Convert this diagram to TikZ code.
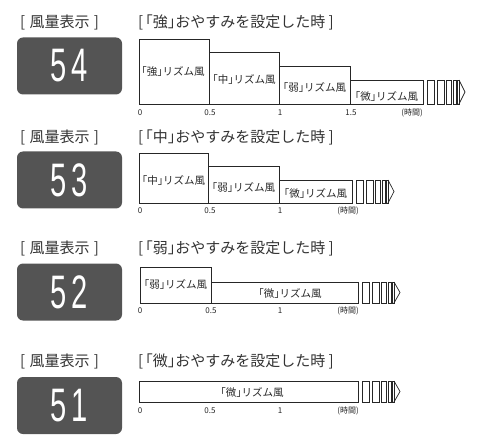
\documentclass[tikz,border=0pt]{standalone}
\usepackage{fontspec}
\setmainfont{Noto Sans CJK JP}[RawFeature=+halt]
\newfontfamily\digitfont{Liberation Sans}
\usetikzlibrary{positioning,calc}

% tail of shrinking boxes: end x, top y, base y
\newcommand{\windtail}[3]{%
  \foreach \a/\b in {4/11,14/21,23/28,30/33,34/36}
    \draw[bar] ({#1+\a},#2) rectangle ({#1+\b},#3);
  \draw[bar] ({#1+36},#2) -- ({#1+42},{(#2+#3)/2}) -- ({#1+36},#3);
}

\begin{document}
\begin{tikzpicture}[x=1pt,y=-1pt,
  title/.style={anchor=west, inner sep=0pt, text=black!80, font=\fontsize{15}{15}\selectfont},
  panel/.style={fill=black!67, rounded corners=6pt, minimum width=105pt, minimum height=57pt, inner sep=0pt},
  digits/.style={text=white, inner sep=0pt, xscale=0.62, font=\digitfont\fontsize{47}{47}\selectfont},
  bar/.style={draw=black!85, line width=0.7pt},
  barlabel/.style={inner sep=0pt, text=black!85, font=\fontsize{10.5}{10.5}\selectfont},
  tick/.style={inner sep=0pt, text=black!85, font=\fontsize{8}{8}\selectfont}]
\useasboundingbox (0,0) rectangle (484,446);

% [強]
\node[title] (t1a) at (20,22) {[\hspace{1pt} 風量表示\hspace{1pt} ]};
\node[title] (t1b) at (138,22) {[\kern2pt「強」おやすみを設定した時 ]};
\node[panel] (p1) at (69.5,66) {};
\node[digits] (d1) at (p1) {5\kern8pt4};
\draw[bar] (139,104) rectangle (209,39);
\draw[bar] (209,104) rectangle (279,52);
\draw[bar] (279,104) rectangle (350,66);
\draw[bar] (350,104) rectangle (423,80);
\windtail{423}{80}{104}
\node[barlabel] (l1a) at (173,72) {「強」リズム風};
\node[barlabel] (l1b) at (244,79) {「中」リズム風};
\node[barlabel] (l1c) at (314.5,87) {「弱」リズム風};
\node[barlabel] (l1d) at (386.5,96) {「微」リズム風};
\node[tick] (x1a) at (140,113) {0};
\node[tick] (x1b) at (210,113) {0.5};
\node[tick] (x1c) at (280,113) {1};
\node[tick] (x1d) at (351,113) {1.5};
\node[tick] (x1e) at (412,113) {(時間)};

% [中]
\node[title] (t2a) at (20,137) {[\hspace{1pt} 風量表示\hspace{1pt} ]};
\node[title] (t2b) at (138,137) {[\kern2pt「中」おやすみを設定した時 ]};
\node[panel] (p2) at (69.5,180) {};
\node[digits] (d2) at (p2) {5\kern8pt3};
\draw[bar] (139,203) rectangle (208,153);
\draw[bar] (208,203) rectangle (279,166);
\draw[bar] (279,203) rectangle (352,180);
\windtail{352}{180}{203}
\node[barlabel] (l2a) at (173.5,180) {「中」リズム風};
\node[barlabel] (l2b) at (243.5,187) {「弱」リズム風};
\node[barlabel] (l2c) at (315.5,193) {「微」リズム風};
\node[tick] (x2a) at (140,211) {0};
\node[tick] (x2b) at (210,211) {0.5};
\node[tick] (x2c) at (280,211) {1};
\node[tick] (x2e) at (348,211) {(時間)};

% [弱]
\node[title] (t3a) at (20,248) {[\hspace{1pt} 風量表示\hspace{1pt} ]};
\node[title] (t3b) at (138,248) {[\kern2pt「弱」おやすみを設定した時 ]};
\node[panel] (p3) at (69.5,292) {};
\node[digits] (d3) at (p3) {5\kern8pt2};
\draw[bar] (140,303) rectangle (211,267);
\draw[bar] (211,303) rectangle (358,282);
\windtail{358}{282}{303}
\node[barlabel] (l3a) at (175.5,284) {「弱」リズム風};
\node[barlabel] (l3b) at (290,293) {「微」リズム風};
\node[tick] (x3a) at (140,311) {0};
\node[tick] (x3b) at (211,311) {0.5};
\node[tick] (x3c) at (280,311) {1};
\node[tick] (x3e) at (348,311) {(時間)};

% [微]
\node[title] (t4a) at (20,361) {[\hspace{1pt} 風量表示\hspace{1pt} ]};
\node[title] (t4b) at (138,361) {[\kern2pt「微」おやすみを設定した時 ]};
\node[panel] (p4) at (69.5,405.5) {};
\node[digits] (d4) at (p4) {5\kern8pt1};
\draw[bar] (139,402) rectangle (358,381);
\windtail{358}{381}{402}
\node[barlabel] (l4a) at (252,392) {「微」リズム風};
\node[tick] (x4a) at (140,411) {0};
\node[tick] (x4b) at (210,411) {0.5};
\node[tick] (x4c) at (280,411) {1};
\node[tick] (x4e) at (348,411) {(時間)};
\end{tikzpicture}
\end{document}
